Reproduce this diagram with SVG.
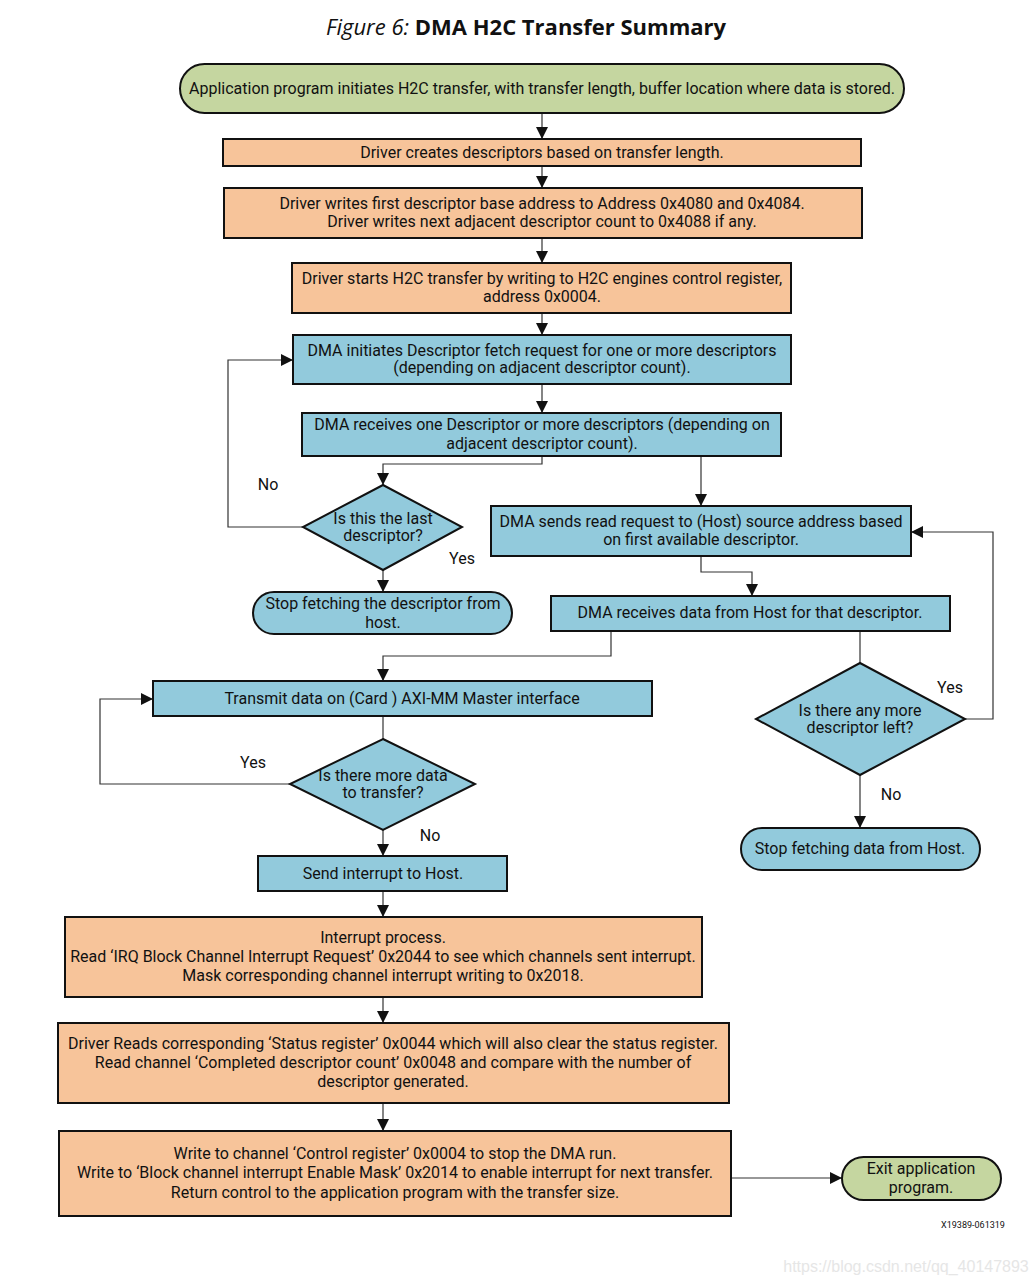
<svg xmlns="http://www.w3.org/2000/svg" width="1036" height="1284" viewBox="0 0 1036 1284">
<defs>
<style>
.t{font-family:Roboto,"Liberation Sans",sans-serif;font-size:16px;fill:#111;text-anchor:middle}
.lbl{font-family:Roboto,"Liberation Sans",sans-serif;font-size:16px;fill:#111;text-anchor:middle}
.g{fill:#c5d6a0;stroke:#111;stroke-width:2}
.o{fill:#f7c49a;stroke:#111;stroke-width:2}
.b{fill:#92cadc;stroke:#111;stroke-width:2}
.c{fill:none;stroke:#333;stroke-width:1.2}
</style>
<marker id="a" viewBox="0 0 10 10" refX="10" refY="5" markerWidth="12" markerHeight="12" markerUnits="userSpaceOnUse" orient="auto"><path d="M0,0L10,5L0,10z" fill="#111"/></marker>
</defs>
<rect width="1036" height="1284" fill="#fff"/>
<text x="526" y="35" text-anchor="middle" font-family="'Open Sans','Noto Sans',sans-serif" font-size="22" fill="#111"><tspan font-style="italic">Figure 6:</tspan><tspan font-weight="bold"> DMA H2C Transfer Summary</tspan></text>

<g id="connectors">
<path class="c" d="M542,113V139" marker-end="url(#a)"/>
<path class="c" d="M542,166V188" marker-end="url(#a)"/>
<path class="c" d="M542,238V263" marker-end="url(#a)"/>
<path class="c" d="M542,313V335" marker-end="url(#a)"/>
<path class="c" d="M542,384V413" marker-end="url(#a)"/>
<path class="c" d="M542,456V464H383V485" marker-end="url(#a)"/>
<path class="c" d="M701,456V506" marker-end="url(#a)"/>
<path class="c" d="M303,527H228V360H293" marker-end="url(#a)"/>
<path class="c" d="M383,570V592" marker-end="url(#a)"/>
<path class="c" d="M701,556V572H752V596" marker-end="url(#a)"/>
<path class="c" d="M611,631V656H383V681" marker-end="url(#a)"/>
<path class="c" d="M860,631V663"/>
<path class="c" d="M965,719H993V532H911" marker-end="url(#a)"/>
<path class="c" d="M860,775V828" marker-end="url(#a)"/>
<path class="c" d="M383,716V739"/>
<path class="c" d="M290,784H100V699H153" marker-end="url(#a)"/>
<path class="c" d="M383,830V856" marker-end="url(#a)"/>
<path class="c" d="M383,891V917" marker-end="url(#a)"/>
<path class="c" d="M383,997V1023" marker-end="url(#a)"/>
<path class="c" d="M383,1103V1131" marker-end="url(#a)"/>
<path class="c" d="M731,1178H842" marker-end="url(#a)"/>
<text class="lbl" x="268" y="490">No</text>
<text class="lbl" x="462" y="564">Yes</text>
<text class="lbl" x="950" y="693">Yes</text>
<text class="lbl" x="891" y="800">No</text>
<text class="lbl" x="253" y="768">Yes</text>
<text class="lbl" x="430" y="841">No</text>
</g>

<g id="n1"><rect class="g" x="180" y="64" width="724" height="49" rx="24.5"/><text class="t" x="542" y="94">Application program initiates H2C transfer, with transfer length, buffer location where data is stored.</text></g>
<g id="n2"><rect class="o" x="223" y="139" width="638" height="27"/><text class="t" x="542" y="158">Driver creates descriptors based on transfer length.</text></g>
<g id="n3"><rect class="o" x="224" y="188" width="638" height="50"/><text class="t" x="542" y="209">Driver writes first descriptor base address to Address 0x4080 and 0x4084.</text><text class="t" x="542" y="227">Driver writes next adjacent descriptor count to 0x4088 if any.</text></g>
<g id="n4"><rect class="o" x="292" y="263" width="499" height="50"/><text class="t" x="542" y="284">Driver starts H2C transfer by writing to H2C engines control register,</text><text class="t" x="542" y="302">address 0x0004.</text></g>
<g id="n5"><rect class="b" x="293" y="335" width="498" height="49"/><text class="t" x="542" y="356">DMA initiates Descriptor fetch request for one or more descriptors</text><text class="t" x="542" y="373">(depending on adjacent descriptor count).</text></g>
<g id="n6"><rect class="b" x="302" y="413" width="479" height="43"/><text class="t" x="542" y="430">DMA receives one Descriptor or more descriptors (depending on</text><text class="t" x="542" y="449">adjacent descriptor count).</text></g>
<g id="d1"><polygon class="b" points="383,485 462,527 383,570 303,527"/><text class="t" x="383" y="524">Is this the last</text><text class="t" x="383" y="541">descriptor?</text></g>
<g id="s1"><rect class="b" x="253" y="592" width="259" height="42" rx="21"/><text class="t" x="383" y="609">Stop fetching the descriptor from</text><text class="t" x="383" y="628">host.</text></g>
<g id="n7"><rect class="b" x="491" y="506" width="420" height="50"/><text class="t" x="701" y="527">DMA sends read request to (Host) source address based</text><text class="t" x="701" y="545">on first available descriptor.</text></g>
<g id="n8"><rect class="b" x="551" y="596" width="399" height="35"/><text class="t" x="750" y="618">DMA receives data from Host for that descriptor.</text></g>
<g id="d2"><polygon class="b" points="860,663 965,719 860,775 756,719"/><text class="t" x="860" y="716">Is there any more</text><text class="t" x="860" y="733">descriptor left?</text></g>
<g id="s2"><rect class="b" x="741" y="828" width="239" height="42" rx="21"/><text class="t" x="860" y="854">Stop fetching data from Host.</text></g>
<g id="n9"><rect class="b" x="153" y="681" width="499" height="35"/><text class="t" x="402" y="704">Transmit data on (Card ) AXI-MM Master interface</text></g>
<g id="d3"><polygon class="b" points="383,739 475,784 383,830 290,784"/><text class="t" x="383" y="781">Is there more data</text><text class="t" x="383" y="798">to transfer?</text></g>
<g id="n10"><rect class="b" x="258" y="856" width="249" height="35"/><text class="t" x="383" y="879">Send interrupt to Host.</text></g>
<g id="n11"><rect class="o" x="65" y="917" width="637" height="80"/><text class="t" x="383" y="943">Interrupt process.</text><text class="t" x="383" y="962">Read ‘IRQ Block Channel Interrupt Request’ 0x2044 to see which channels sent interrupt.</text><text class="t" x="383" y="981">Mask corresponding channel interrupt writing to 0x2018.</text></g>
<g id="n12"><rect class="o" x="58" y="1023" width="671" height="80"/><text class="t" x="393" y="1049">Driver Reads corresponding ‘Status register’ 0x0044 which will also clear the status register.</text><text class="t" x="393" y="1068">Read channel ‘Completed descriptor count’ 0x0048 and compare with the number of</text><text class="t" x="393" y="1087">descriptor generated.</text></g>
<g id="n13"><rect class="o" x="59" y="1131" width="672" height="85"/><text class="t" x="395" y="1159">Write to channel ‘Control register’ 0x0004 to stop the DMA run.</text><text class="t" x="395" y="1178">Write to ‘Block channel interrupt Enable Mask’ 0x2014 to enable interrupt for next transfer.</text><text class="t" x="395" y="1198">Return control to the application program with the transfer size.</text></g>
<g id="exit"><rect class="g" x="842" y="1157" width="159" height="43" rx="21.5"/><text class="t" x="921" y="1174">Exit application</text><text class="t" x="921" y="1193">program.</text></g>
<text x="973" y="1228" text-anchor="middle" font-family="Roboto,'Liberation Sans',sans-serif" font-size="9" fill="#111">X19389-061319</text>
<text x="906" y="1272" text-anchor="middle" font-family="'Liberation Sans',Arial,sans-serif" font-size="16" fill="#e6e6e6">https://blog.csdn.net/qq_40147893</text>
</svg>
